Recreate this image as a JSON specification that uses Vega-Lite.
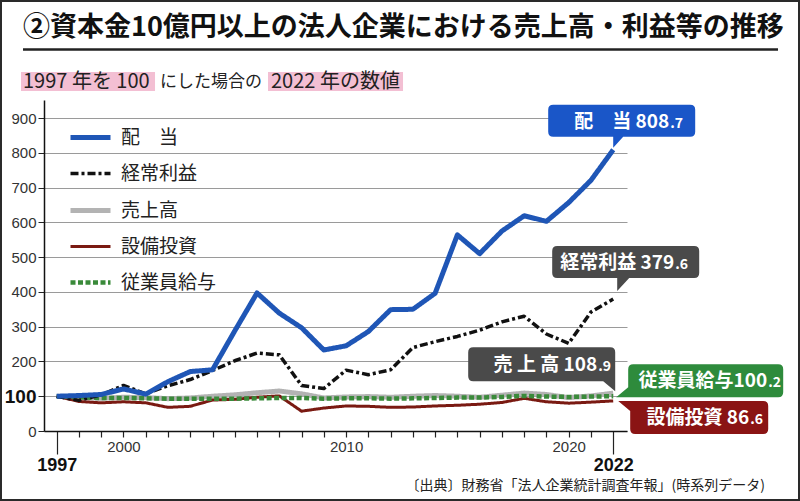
{
  "$schema": "https://vega.github.io/schema/vega-lite/v6.json",
  "width": 583,
  "height": 331,
  "autosize": "none",
  "padding": {"left": 44, "top": 100, "right": 173, "bottom": 70},
  "background": "white",
  "data": {
    "values": [
      {"year": 1997, "配　当": 100, "経常利益": 100, "売上高": 100, "設備投資": 100, "従業員給与": 100},
      {"year": 1998, "配　当": 102, "経常利益": 88, "売上高": 96, "設備投資": 85, "従業員給与": 97},
      {"year": 1999, "配　当": 105, "経常利益": 104, "売上高": 94, "設備投資": 81, "従業員給与": 95},
      {"year": 2000, "配　当": 121, "経常利益": 131, "売上高": 97, "設備投資": 84, "従業員給与": 95},
      {"year": 2001, "配　当": 106, "経常利益": 107, "売上高": 96, "設備投資": 81, "従業員給与": 94},
      {"year": 2002, "配　当": 142, "経常利益": 130, "売上高": 93, "設備投資": 68, "従業員給与": 93},
      {"year": 2003, "配　当": 171, "経常利益": 148, "売上高": 95, "設備投資": 71, "従業員給与": 93},
      {"year": 2004, "配　当": 176, "経常利益": 174, "売上高": 100, "設備投資": 89, "従業員給与": 93},
      {"year": 2005, "配　当": 288, "経常利益": 202, "売上高": 104, "設備投資": 91, "従業員給与": 93},
      {"year": 2006, "配　当": 397, "経常利益": 224, "売上高": 110, "設備投資": 97, "従業員給与": 94},
      {"year": 2007, "配　当": 339, "経常利益": 219, "売上高": 115, "設備投資": 101, "従業員給与": 95},
      {"year": 2008, "配　当": 297, "経常利益": 131, "売上高": 107, "設備投資": 57, "従業員給与": 95},
      {"year": 2009, "配　当": 233, "経常利益": 122, "売上高": 95, "設備投資": 66, "従業員給与": 93},
      {"year": 2010, "配　当": 245, "経常利益": 175, "売上高": 98, "設備投資": 72, "従業員給与": 94},
      {"year": 2011, "配　当": 286, "経常利益": 162, "売上高": 99, "設備投資": 71, "従業員給与": 94},
      {"year": 2012, "配　当": 349, "経常利益": 176, "売上高": 97, "設備投資": 68, "従業員給与": 93},
      {"year": 2013, "配　当": 350, "経常利益": 240, "売上高": 100, "設備投資": 69, "従業員給与": 94},
      {"year": 2014, "配　当": 396, "経常利益": 257, "売上高": 102, "設備投資": 72, "従業員給与": 95},
      {"year": 2015, "配　当": 564, "経常利益": 272, "売上高": 100, "設備投資": 74, "従業員給与": 96},
      {"year": 2016, "配　当": 510, "経常利益": 290, "売上高": 97, "設備投資": 77, "従業員給与": 96},
      {"year": 2017, "配　当": 575, "経常利益": 314, "売上高": 103, "設備投資": 82, "従業員給与": 98},
      {"year": 2018, "配　当": 619, "経常利益": 330, "売上高": 109, "設備投資": 94, "従業員給与": 101},
      {"year": 2019, "配　当": 603, "経常利益": 279, "売上高": 105, "設備投資": 84, "従業員給与": 99},
      {"year": 2020, "配　当": 657, "経常利益": 252, "売上高": 96, "設備投資": 80, "従業員給与": 98},
      {"year": 2021, "配　当": 721, "経常利益": 342, "売上高": 101, "設備投資": 83, "従業員給与": 99},
      {"year": 2022, "配　当": 808.7, "経常利益": 379.6, "売上高": 108.9, "設備投資": 86.6, "従業員給与": 100.2}
    ]
  },
  "resolve": {"axis": {"x": "independent", "y": "independent"}},
  "layer": [
    {
      "transform": [{"filter": "datum.year == 1997"}],
      "layer": [
        {
          "mark": {"type": "rect", "filled": false, "color": "#2a2a2a", "strokeWidth": 4},
          "encoding": {
            "x": {"datum": 1994.453, "type": "quantitative", "axis": null},
            "x2": {"datum": 2030.392},
            "y": {"datum": -201.33, "type": "quantitative", "axis": null},
            "y2": {"datum": 1239.61}
          }
        },
        {
          "mark": {"type": "text", "align": "left", "baseline": "middle", "fontSize": 27, "fontWeight": "bold", "font": "Noto Sans CJK JP", "color": "#111"},
          "encoding": {
            "x": {"datum": 1995.487, "type": "quantitative", "axis": null},
            "y": {"datum": 1159.1, "type": "quantitative", "axis": null},
            "text": {"value": "②資本金10億円以上の法人企業における売上高・利益等の推移"}
          }
        },
        {
          "mark": {"type": "rule", "strokeWidth": 2.5, "color": "#222"},
          "encoding": {
            "x": {"datum": 1995.487, "type": "quantitative", "axis": null},
            "x2": {"datum": 2029.404},
            "y": {"datum": 1097.2, "type": "quantitative", "axis": null}
          }
        },
        {
          "mark": {"type": "rect", "color": "#f3bfd3"},
          "encoding": {
            "x": {"datum": 1995.397, "type": "quantitative", "axis": null},
            "x2": {"datum": 2001.417},
            "y": {"datum": 1032.5, "type": "quantitative", "axis": null},
            "y2": {"datum": 977.9}
          }
        },
        {
          "mark": {"type": "rect", "color": "#f3bfd3"},
          "encoding": {
            "x": {"datum": 2006.493, "type": "quantitative", "axis": null},
            "x2": {"datum": 2012.558},
            "y": {"datum": 1032.5, "type": "quantitative", "axis": null},
            "y2": {"datum": 977.9}
          }
        },
        {
          "mark": {"type": "text", "align": "left", "baseline": "middle", "fontSize": 20, "font": "Noto Sans CJK JP", "color": "#222"},
          "encoding": {
            "x": {"datum": 1995.487, "type": "quantitative", "axis": null},
            "y": {"datum": 1003.8, "type": "quantitative", "axis": null},
            "text": {"value": "1997 年を 100"}
          }
        },
        {
          "mark": {"type": "text", "align": "left", "baseline": "middle", "fontSize": 17, "font": "Noto Sans CJK JP", "color": "#222"},
          "encoding": {
            "x": {"datum": 2001.641, "type": "quantitative", "axis": null},
            "y": {"datum": 1003.8, "type": "quantitative", "axis": null},
            "text": {"value": "にした場合の"}
          }
        },
        {
          "mark": {"type": "text", "align": "left", "baseline": "middle", "fontSize": 20, "font": "Noto Sans CJK JP", "color": "#222"},
          "encoding": {
            "x": {"datum": 2006.628, "type": "quantitative", "axis": null},
            "y": {"datum": 1003.8, "type": "quantitative", "axis": null},
            "text": {"value": "2022 年の数値"}
          }
        },
        {
          "mark": {"type": "text", "align": "right", "baseline": "middle", "fontSize": 14, "font": "Noto Sans CJK JP", "color": "#222"},
          "encoding": {
            "x": {"datum": 2028.82, "type": "quantitative", "axis": null},
            "y": {"datum": -157, "type": "quantitative", "axis": null},
            "text": {"value": "〔出典〕財務省「法人企業統計調査年報」(時系列データ)"}
          }
        }
      ]
    },
    {
      "encoding": {
        "x": {
          "field": "year",
          "type": "quantitative",
          "scale": {"domain": [1996.43, 2022.62], "nice": false, "zero": false},
          "axis": {
            "orient": "bottom",
            "title": null,
            "grid": false,
            "values": [1997, 1998, 1999, 2000, 2001, 2002, 2003, 2004, 2005, 2006, 2007, 2008, 2009, 2010, 2011, 2012, 2013, 2014, 2015, 2016, 2017, 2018, 2019, 2020, 2021, 2022],
            "format": "d",
            "labelExpr": "indexof([1997, 2000, 2010, 2020, 2022], datum.value) >= 0 ? datum.label : ''",
            "tickSize": {"condition": {"test": "datum.value == 1997 || datum.value == 2022", "value": 23}, "value": 6},
            "labelFontSize": {"condition": {"test": "datum.value == 1997 || datum.value == 2022", "value": 18}, "value": 15},
            "labelFontWeight": {"condition": {"test": "datum.value == 1997 || datum.value == 2022", "value": "bold"}, "value": "normal"},
            "labelColor": {"condition": {"test": "datum.value == 1997 || datum.value == 2022", "value": "#111"}, "value": "#333"},
            "labelPadding": 2,
            "labelFlush": false,
            "labelOverlap": false,
            "labelBound": false,
            "labelBaseline": "top",
            "labelFont": "Liberation Sans",
            "domainColor": "#111",
            "domainWidth": 1.5,
            "tickColor": "#222",
            "tickWidth": 1.2
          }
        },
        "y": {
          "field": "value",
          "type": "quantitative",
          "scale": {"domain": [0, 952], "nice": false},
          "axis": {
            "orient": "left",
            "title": null,
            "values": [0, 100, 200, 300, 400, 500, 600, 700, 800, 900],
            "grid": true,
            "gridColor": "#9a9a9a",
            "gridWidth": 1,
            "tickSize": 6,
            "tickColor": "#222",
            "labelPadding": 2,
            "labelFont": "Liberation Sans",
            "labelFontSize": {"condition": {"test": "datum.value == 100", "value": 19}, "value": 15},
            "labelFontWeight": {"condition": {"test": "datum.value == 100", "value": "bold"}, "value": "normal"},
            "labelColor": {"condition": {"test": "datum.value == 100", "value": "#111"}, "value": "#333"},
            "domainColor": "#111",
            "domainWidth": 1.5
          }
        }
      },
      "layer": [
        {
          "transform": [
            {"fold": ["売上高", "設備投資", "従業員給与", "経常利益", "配　当"], "as": ["series", "value"]}
          ],
          "mark": {"type": "line", "strokeJoin": "round", "strokeCap": "butt"},
          "encoding": {
            "color": {
              "field": "series",
              "type": "nominal",
              "scale": {
                "domain": ["配　当", "経常利益", "売上高", "設備投資", "従業員給与"],
                "range": ["#1f56b6", "#111111", "#b3b3b3", "#7a1a12", "#3a8a3a"]
              },
              "legend": {
                "title": null,
                "orient": "none",
                "legendX": 22,
                "legendY": 28,
                "padding": 0,
                "symbolType": "M-1,0H7",
                "symbolSize": 100,
                "symbolStrokeWidth": 5,
                "labelOffset": 36,
                "rowPadding": 16,
                "labelFont": "Noto Sans CJK JP",
                "labelFontSize": 19,
                "labelColor": "#222",
                "encode": {"symbols": {"update": {"strokeWidth": {"signal": "datum.value == '経常利益' ? 3.5 : datum.value == '設備投資' ? 3 : datum.value == '従業員給与' ? 4.5 : 5"}}}}
              }
            },
            "strokeDash": {
              "field": "series",
              "type": "nominal",
              "scale": {
                "domain": ["配　当", "経常利益", "売上高", "設備投資", "従業員給与"],
                "range": [[1, 0], [8, 3, 3, 3], [1, 0], [1, 0], [5, 2.5]]
              },
              "legend": {
                "title": null,
                "orient": "none",
                "legendX": 22,
                "legendY": 28,
                "padding": 0,
                "symbolType": "M-1,0H7",
                "symbolSize": 100,
                "symbolStrokeWidth": 5,
                "labelOffset": 36,
                "rowPadding": 16,
                "labelFont": "Noto Sans CJK JP",
                "labelFontSize": 19,
                "labelColor": "#222",
                "encode": {"symbols": {"update": {"strokeWidth": {"signal": "datum.value == '経常利益' ? 3.5 : datum.value == '設備投資' ? 3 : datum.value == '従業員給与' ? 4.5 : 5"}}}}
              }
            },
            "strokeWidth": {
              "condition": [
                {"test": "datum.series == '経常利益'", "value": 3.5},
                {"test": "datum.series == '設備投資'", "value": 3},
                {"test": "datum.series == '従業員給与'", "value": 4.5}
              ],
              "value": 5
            }
          }
        },
        {
          "transform": [
            {"fold": ["配　当"], "as": ["series", "value"]},
            {"filter": "datum.year == 2022"},
            {"calculate": "split(format(datum.value, '.1f'), '.')", "as": "parts"},
            {"calculate": "datum.series + ' ' + datum.parts[0]", "as": "main"},
            {"calculate": "'.' + datum.parts[1]", "as": "dec"}
          ],
          "layer": [
            {"mark": {"type": "point", "shape": "M-60,-45H77Q82,-45 82,-40V-18Q82,-13 77,-13H10L0,-2V-13H-60Q-65,-13 -65,-18V-40Q-65,-45 -60,-45Z", "size": 4, "filled": true, "fill": "#1a56c8", "opacity": 1, "strokeWidth": 0}},
            {"mark": {"type": "text", "align": "right", "baseline": "alphabetic", "dx": 56, "dy": -22, "fontSize": 19, "fontWeight": "bold", "font": "Noto Sans CJK JP", "color": "white"}, "encoding": {"text": {"field": "main"}}},
            {"mark": {"type": "text", "align": "left", "baseline": "alphabetic", "dx": 57, "dy": -22, "fontSize": 14, "fontWeight": "bold", "font": "Noto Sans CJK JP", "color": "white"}, "encoding": {"text": {"field": "dec"}}}
          ]
        },
        {
          "transform": [
            {"fold": ["経常利益"], "as": ["series", "value"]},
            {"filter": "datum.year == 2022"},
            {"calculate": "split(format(datum.value, '.1f'), '.')", "as": "parts"},
            {"calculate": "datum.series + ' ' + datum.parts[0]", "as": "main"},
            {"calculate": "'.' + datum.parts[1]", "as": "dec"}
          ],
          "layer": [
            {"mark": {"type": "point", "shape": "M-56,-53H81Q86,-53 86,-48V-26Q86,-21 81,-21H16L4,-8V-21H-56Q-61,-21 -61,-26V-48Q-61,-53 -56,-53Z", "size": 4, "filled": true, "fill": "#4a4a4a", "opacity": 1, "strokeWidth": 0}},
            {"mark": {"type": "text", "align": "right", "baseline": "alphabetic", "dx": 61, "dy": -30, "fontSize": 19, "fontWeight": "bold", "font": "Noto Sans CJK JP", "color": "white"}, "encoding": {"text": {"field": "main"}}},
            {"mark": {"type": "text", "align": "left", "baseline": "alphabetic", "dx": 62, "dy": -30, "fontSize": 14, "fontWeight": "bold", "font": "Noto Sans CJK JP", "color": "white"}, "encoding": {"text": {"field": "dec"}}}
          ]
        },
        {
          "transform": [
            {"fold": ["売上高"], "as": ["series", "value"]},
            {"filter": "datum.year == 2022"},
            {"calculate": "split(format(datum.value, '.1f'), '.')", "as": "parts"},
            {"calculate": "'売 上 高 ' + datum.parts[0]", "as": "main"},
            {"calculate": "'.' + datum.parts[1]", "as": "dec"}
          ],
          "layer": [
            {"mark": {"type": "point", "shape": "M-140,-46H-3Q2,-46 2,-41V-2L-10,-12H-140Q-145,-12 -145,-17V-41Q-145,-46 -140,-46Z", "size": 4, "filled": true, "fill": "#4a4a4a", "opacity": 1, "strokeWidth": 0}},
            {"mark": {"type": "text", "align": "right", "baseline": "alphabetic", "dx": -16, "dy": -22, "fontSize": 19, "fontWeight": "bold", "font": "Noto Sans CJK JP", "color": "white"}, "encoding": {"text": {"field": "main"}}},
            {"mark": {"type": "text", "align": "left", "baseline": "alphabetic", "dx": -15, "dy": -22, "fontSize": 14, "fontWeight": "bold", "font": "Noto Sans CJK JP", "color": "white"}, "encoding": {"text": {"field": "dec"}}}
          ]
        },
        {
          "transform": [
            {"fold": ["従業員給与"], "as": ["series", "value"]},
            {"filter": "datum.year == 2022"},
            {"calculate": "split(format(datum.value, '.1f'), '.')", "as": "parts"},
            {"calculate": "datum.series + datum.parts[0]", "as": "main"},
            {"calculate": "'.' + datum.parts[1]", "as": "dec"}
          ],
          "layer": [
            {"mark": {"type": "point", "shape": "M20,-32H165Q170,-32 170,-27V-4Q170,1 165,1H3L15,-9V-27Q15,-32 20,-32Z", "size": 4, "filled": true, "fill": "#2e8b3c", "opacity": 1, "strokeWidth": 0}},
            {"mark": {"type": "text", "align": "right", "baseline": "alphabetic", "dx": 154, "dy": -9, "fontSize": 19, "fontWeight": "bold", "font": "Noto Sans CJK JP", "color": "white"}, "encoding": {"text": {"field": "main"}}},
            {"mark": {"type": "text", "align": "left", "baseline": "alphabetic", "dx": 155, "dy": -9, "fontSize": 14, "fontWeight": "bold", "font": "Noto Sans CJK JP", "color": "white"}, "encoding": {"text": {"field": "dec"}}}
          ]
        },
        {
          "transform": [
            {"fold": ["設備投資"], "as": ["series", "value"]},
            {"filter": "datum.year == 2022"},
            {"calculate": "split(format(datum.value, '.1f'), '.')", "as": "parts"},
            {"calculate": "datum.series + ' ' + datum.parts[0]", "as": "main"},
            {"calculate": "'.' + datum.parts[1]", "as": "dec"}
          ],
          "layer": [
            {"mark": {"type": "point", "shape": "M5,0H150Q155,0 155,5V28Q155,33 150,33H22Q17,33 17,28V10Z", "size": 4, "filled": true, "fill": "#8a1414", "opacity": 1, "strokeWidth": 0}},
            {"mark": {"type": "text", "align": "right", "baseline": "alphabetic", "dx": 136, "dy": 23, "fontSize": 19, "fontWeight": "bold", "font": "Noto Sans CJK JP", "color": "white"}, "encoding": {"text": {"field": "main"}}},
            {"mark": {"type": "text", "align": "left", "baseline": "alphabetic", "dx": 137, "dy": 23, "fontSize": 14, "fontWeight": "bold", "font": "Noto Sans CJK JP", "color": "white"}, "encoding": {"text": {"field": "dec"}}}
          ]
        }
      ]
    }
  ],
  "config": {
    "view": {"stroke": null},
    "font": "Noto Sans CJK JP"
  }
}
